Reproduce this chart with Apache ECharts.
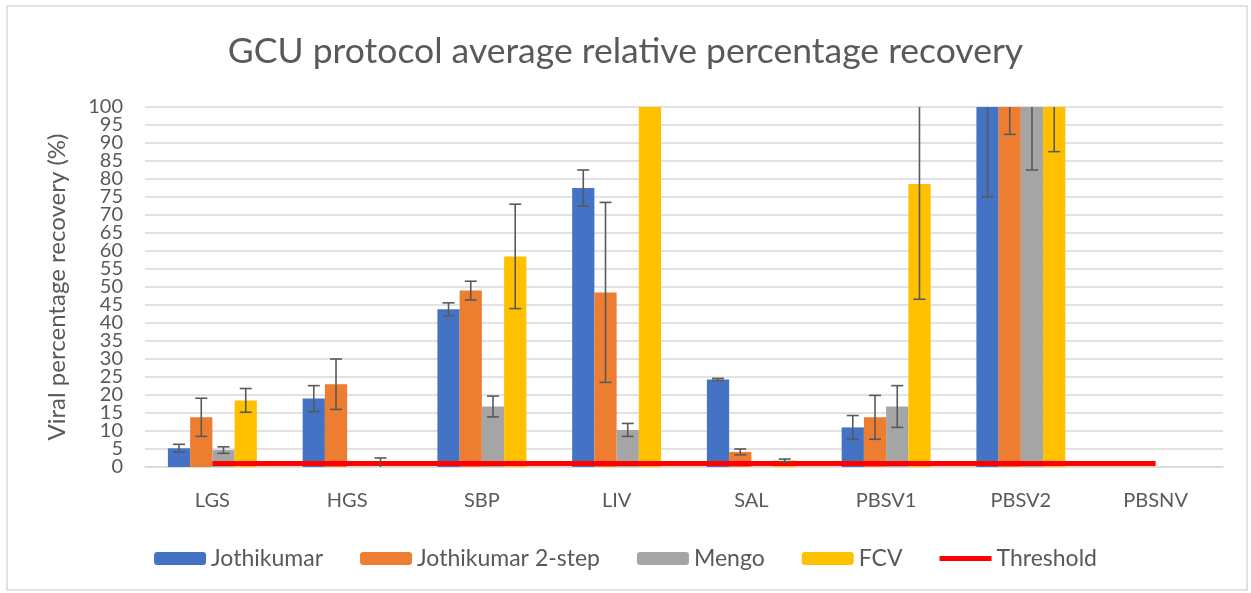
<!DOCTYPE html>
<html>
<head>
<meta charset="utf-8">
<script src="https://cdn.jsdelivr.net/npm/echarts@6/dist/echarts.min.js"></script>
<style>
  body { margin: 0; background: #fff; }
  #main { width: 1251px; height: 593px; }
</style>
</head>
<body>
<div id="main"></div>
<script>
var categories = ['LGS', 'HGS', 'SBP', 'LIV', 'SAL', 'PBSV1', 'PBSV2', 'PBSNV'];
var seriesNames = ['Jothikumar', 'Jothikumar 2-step', 'Mengo', 'FCV'];
var jothikumar    = [5.2, 19, 43.8, 77.5, 24.3, 11, 100, 0];
var jothikumarErr = [1.1, 3.6, 1.8, 5, 0.3, 3.3, 25, 0];
var twoStep       = [13.8, 23, 49, 48.5, 4.2, 13.8, 100, 0];
var twoStepErr    = [5.3, 7, 2.6, 25, 0.8, 6.1, 7.6, 0];
var mengo         = [4.7, 0, 16.8, 10.3, 0, 16.8, 100, 0];
var mengoErr      = [0.9, 0, 2.9, 1.8, 0, 5.8, 17.5, 0];
var fcv           = [18.5, 0, 58.5, 100, 1.8, 78.6, 100, 0];
var fcvErr        = [3.3, 2.5, 14.5, 0, 0.4, 32, 12.4, 0];
var threshold     = [1, 1, 1, 1, 1, 1, 1, 1];
var yTicks = { min: 0, max: 100, interval: 5 };
// labels next to min/max get hidden by echarts when they touch, so they go on a twin axis
var edgeTicks = [5, 95];

var colors = ['#4472c4', '#ed7d31', '#a5a5a5', '#ffc000'];
var gapRatio = 0.34;
var txt = '#595959';
var font = 'Lato';

var chart = echarts.init(document.getElementById('main'));

// error bars drawn as custom series, shifted to sit on each bar
function errSeries(idx, vals, errs) {
    var data = [];
    for (var i = 0; i < vals.length; i++) {
        if (errs[i] > 0) data.push([i, vals[i] - errs[i], vals[i] + errs[i]]);
    }
    return {
        type: 'custom',
        name: 'err' + idx,
        z: 5,
        data: data,
        renderItem: function (params, api) {
            var x = api.value(0), lo = api.value(1), hi = api.value(2);
            var band = api.size([1, 0])[0];
            var w = band * (1 - gapRatio) / 4;
            var off = (idx - 1.5) * w;
            var top = api.coord([x, Math.min(hi, yTicks.max)]);
            var bot = api.coord([x, Math.max(lo, yTicks.min)]);
            var cx = top[0] + off;
            var st = { stroke: txt, lineWidth: 1.6 };
            var kids = [{ type: 'line', shape: { x1: cx, y1: top[1], x2: cx, y2: bot[1] }, style: st }];
            if (hi <= yTicks.max) kids.push({ type: 'line', shape: { x1: cx - 6, y1: top[1], x2: cx + 6, y2: top[1] }, style: st });
            if (lo >= yTicks.min) kids.push({ type: 'line', shape: { x1: cx - 6, y1: bot[1], x2: cx + 6, y2: bot[1] }, style: st });
            return { type: 'group', children: kids };
        }
    };
}

var barData = [jothikumar, twoStep, mengo, fcv];
var errData = [jothikumarErr, twoStepErr, mengoErr, fcvErr];
var series = [];
for (var s = 0; s < 4; s++) {
    series.push({
        type: 'bar',
        name: seriesNames[s],
        data: barData[s],
        barGap: '0%',
        barCategoryGap: (gapRatio * 100) + '%',
        itemStyle: { color: colors[s] }
    });
}
series.push({
    type: 'line',
    name: 'Threshold',
    data: threshold,
    symbol: 'none',
    z: 4,
    lineStyle: { color: '#ff0000', width: 5 },
    itemStyle: { color: '#ff0000' }
});
for (var e = 0; e < 4; e++) series.push(errSeries(e, barData[e], errData[e]));

// thick line icon for the threshold entry (tiny corner specks keep the box size)
var lineIcon = 'path://M0,0h0.5v0.1h-0.5z M0,4h52v5h-52z M51.5,12.9h0.5v0.1h-0.5z';

var labelStyle = { color: txt, fontSize: 20, margin: 22, fontFamily: font };

var option = {
    animation: false,
    textStyle: { fontFamily: font },
    title: {
        text: 'GCU protocol average relative percentage recovery',
        left: 'center',
        top: 29,
        textStyle: { color: txt, fontSize: 35.5, fontWeight: 'normal', fontFamily: font }
    },
    graphic: [{
        type: 'rect',
        shape: { x: 7, y: 6, width: 1240, height: 584 },
        style: { fill: 'none', stroke: '#d9d9d9', lineWidth: 1.5 },
        silent: true
    }],
    legend: {
        data: ['Jothikumar', 'Jothikumar 2-step', 'Mengo', 'FCV', { name: 'Threshold', icon: lineIcon }],
        left: 'center',
        top: 542,
        itemWidth: 52,
        itemHeight: 13,
        itemGap: 37,
        textStyle: { color: txt, fontSize: 23, fontFamily: font }
    },
    grid: { left: 145, right: 28, top: 107, bottom: 126 },
    xAxis: {
        type: 'category',
        data: categories,
        axisLine: { lineStyle: { color: '#d9d9d9', width: 1.5 } },
        axisTick: { show: false },
        axisLabel: { color: txt, fontSize: 20, margin: 24, fontFamily: font }
    },
    yAxis: [{
        type: 'value',
        min: yTicks.min,
        max: yTicks.max,
        interval: yTicks.interval,
        name: 'Viral percentage recovery (%)',
        nameLocation: 'middle',
        nameGap: 76,
        nameTextStyle: { color: txt, fontSize: 24, fontFamily: font },
        axisLine: { show: false },
        axisTick: { show: false },
        splitLine: { lineStyle: { color: '#d9d9d9', width: 1.5 } },
        axisLabel: Object.assign({
            showMinLabel: true, showMaxLabel: true,
            formatter: function (v) { return edgeTicks.indexOf(v) >= 0 ? '' : String(v); }
        }, labelStyle)
    }, {
        type: 'value',
        position: 'left',
        min: yTicks.min,
        max: yTicks.max,
        interval: yTicks.interval,
        axisLine: { show: false },
        axisTick: { show: false },
        splitLine: { show: false },
        axisLabel: Object.assign({
            showMinLabel: false, showMaxLabel: false,
            formatter: function (v) { return edgeTicks.indexOf(v) >= 0 ? String(v) : ''; }
        }, labelStyle)
    }],
    series: series
};

chart.setOption(option);
window.addEventListener('resize', function () {
    chart.resize();
});
</script>
</body>
</html>
